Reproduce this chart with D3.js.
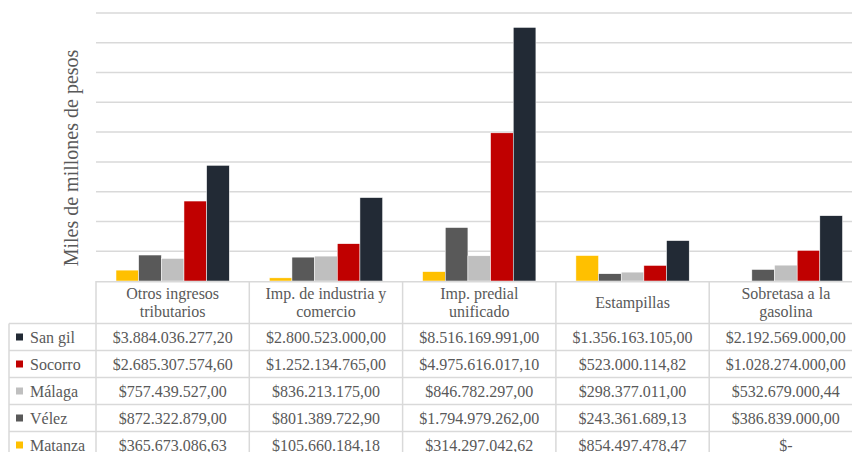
<!DOCTYPE html>
<html>
<head>
<meta charset="utf-8">
<script src="https://cdn.jsdelivr.net/npm/d3@7"></script>
<style>
  html, body { margin: 0; padding: 0; background: #fff; }
  svg { display: block; }
</style>
</head>
<body>
<svg id="chart" width="852" height="452"></svg>
<script>
// ---- Data ----
const categories = [
  ["Otros ingresos", "tributarios"],
  ["Imp. de industria y", "comercio"],
  ["Imp. predial", "unificado"],
  ["Estampillas"],
  ["Sobretasa a la", "gasolina"]
];
const categoryKeys = ["Otros ingresos tributarios", "Imp. de industria y comercio", "Imp. predial unificado", "Estampillas", "Sobretasa a la gasolina"];

const seriesNames = ["San gil", "Socorro", "Málaga", "Vélez", "Matanza"];
const seriesColors = ["#222a35", "#c00000", "#bfbfbf", "#595959", "#ffc000"];

const sanGil  = [3884036277.20, 2800523000.00, 8516169991.00, 1356163105.00, 2192569000.00];
const socorro = [2685307574.60, 1252134765.00, 4975616017.10, 523000114.82, 1028274000.00];
const malaga  = [757439527.00, 836213175.00, 846782297.00, 298377011.00, 532679000.44];
const velez   = [872322879.00, 801389722.90, 1794979262.00, 243361689.13, 386839000.00];
const matanza = [365673086.63, 105660184.18, 314297042.62, 854497478.47, 0];

const seriesValues = [sanGil, socorro, malaga, velez, matanza];
const yTicks = [0, 1e9, 2e9, 3e9, 4e9, 5e9, 6e9, 7e9, 8e9, 9e9];
const yTitle = "Miles de millones de pesos";

// ---- Layout ----
const FONT = "'Liberation Serif', 'DejaVu Serif', 'Times New Roman', serif";
const svg = d3.select("#chart")
  .attr("font-family", FONT)
  .style("font-family", FONT);
const plotLeft = 96, colW = 153.3;
const baseY = 281, topY = 13;
const tableLeft = 9;
const headerBottom = 323.5, rowH = 27;

const x = d3.scaleBand().domain(categoryKeys).range([plotLeft, plotLeft + colW * categoryKeys.length]).paddingInner(0).paddingOuter(0);
// bars drawn in reverse of table order: Matanza, Vélez, Málaga, Socorro, San gil
const barOrder = seriesNames.slice().reverse();
const xs = d3.scaleBand().domain(barOrder).range([20, colW - 20]).padding(0);
const y = d3.scaleLinear().domain([0, 9e9]).range([baseY, topY]);

const fmtLocale = d3.formatLocale({ decimal: ",", thousands: ".", grouping: [3], currency: ["$", ""] });
const fmtMoney = v => v === 0 ? "$-" : fmtLocale.format("$,.2f")(v);

function addText(g) {
  return g.append("text")
    .attr("font-family", FONT)
    .style("font-family", FONT)
    .attr("fill", "#595959");
}

// gridlines
svg.append("g").selectAll("line").data(yTicks.slice(1)).join("line")
  .attr("x1", plotLeft).attr("x2", 852)
  .attr("y1", d => y(d)).attr("y2", d => y(d))
  .attr("stroke", "#d9d9d9").attr("stroke-width", 1.5);

// bars
const groups = svg.append("g").selectAll("g").data(categoryKeys).join("g")
  .attr("transform", d => `translate(${x(d)},0)`);
groups.selectAll("rect").data((d, ci) => barOrder.map(name => {
    const si = seriesNames.indexOf(name);
    return { name, value: seriesValues[si][ci], color: seriesColors[si] };
  })).join("rect")
  .attr("x", d => xs(d.name))
  .attr("width", xs.bandwidth())
  .attr("y", d => y(d.value))
  .attr("height", d => baseY - y(d.value))
  .attr("fill", d => d.color)
  .attr("stroke", "#ffffff").attr("stroke-width", 0.5);

// y title
addText(svg)
  .attr("transform", `translate(78,158) rotate(-90)`)
  .attr("text-anchor", "middle")
  .attr("font-size", 20)
  .text(yTitle);

// ---- Data table ----
const tableRight = 870;
const lineColor = "#d9d9d9";
const tg = svg.append("g");
tg.append("line").attr("x1", plotLeft).attr("x2", tableRight).attr("y1", baseY + 0.75).attr("y2", baseY + 0.75)
  .attr("stroke", lineColor).attr("stroke-width", 1.5);
d3.range(seriesNames.length + 1).forEach(i => {
  const yy = headerBottom + i * rowH;
  tg.append("line").attr("x1", tableLeft).attr("x2", tableRight).attr("y1", yy).attr("y2", yy)
    .attr("stroke", lineColor).attr("stroke-width", 1.5);
});
const colEdges = categoryKeys.map(k => x(k)).concat([x(categoryKeys[categoryKeys.length - 1]) + x.bandwidth()]);
colEdges.forEach(xx => {
  tg.append("line").attr("x1", xx).attr("x2", xx).attr("y1", baseY).attr("y2", 460)
    .attr("stroke", lineColor).attr("stroke-width", 1.5);
});
tg.append("line").attr("x1", tableLeft).attr("x2", tableLeft).attr("y1", headerBottom).attr("y2", 460)
  .attr("stroke", lineColor).attr("stroke-width", 1.5);

// header text
categories.forEach((lines, ci) => {
  const cx = x(categoryKeys[ci]) + x.bandwidth() / 2;
  const n = lines.length;
  const cy = (baseY + headerBottom) / 2;
  lines.forEach((ln, li) => {
    addText(tg)
      .attr("x", cx)
      .attr("y", cy + (li - (n - 1) / 2) * 17.5)
      .attr("dy", "0.35em")
      .attr("text-anchor", "middle")
      .attr("font-size", 16)
      .text(ln);
  });
});

// rows
seriesNames.forEach((name, si) => {
  const cy = headerBottom + si * rowH + rowH / 2;
  tg.append("rect").attr("x", 16).attr("y", cy - 3.5).attr("width", 7).attr("height", 7).attr("fill", seriesColors[si]);
  addText(tg).attr("x", 30).attr("y", cy).attr("dy", "0.35em")
    .attr("font-size", 16).text(name);
  seriesValues[si].forEach((v, ci) => {
    addText(tg)
      .attr("x", x(categoryKeys[ci]) + x.bandwidth() / 2)
      .attr("y", cy).attr("dy", "0.35em")
      .attr("text-anchor", "middle")
      .attr("font-size", 16)
      .text(fmtMoney(v));
  });
});
</script>
</body>
</html>
